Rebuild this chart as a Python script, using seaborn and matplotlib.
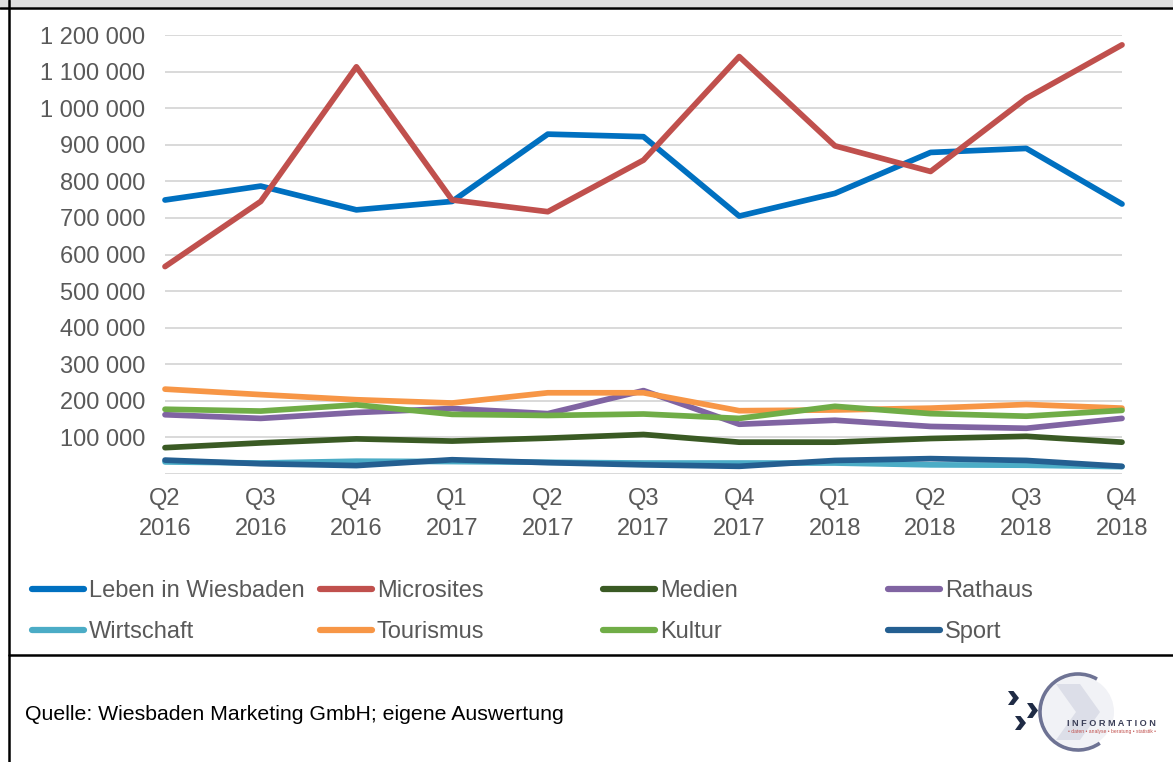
import numpy as np
import pandas as pd
import matplotlib
matplotlib.use("Agg")
import matplotlib.pyplot as plt
import seaborn as sns
from matplotlib.lines import Line2D
from matplotlib.patches import Rectangle, Polygon, Arc, Circle
from matplotlib.ticker import FuncFormatter

# Page views per quarter and topic
quarters = ["Q2\n2016", "Q3\n2016", "Q4\n2016", "Q1\n2017", "Q2\n2017", "Q3\n2017",
            "Q4\n2017", "Q1\n2018", "Q2\n2018", "Q3\n2018", "Q4\n2018"]

leben = [749000, 787000, 722000, 745000, 929000, 922000, 705000, 767000, 879000, 890000, 738000]
microsites = [567000, 745000, 1113000, 749000, 717000, 858000, 1141000, 897000, 827000, 1027000, 1173000]
medien = [72000, 85000, 96000, 90000, 98000, 108000, 87000, 87000, 97000, 103000, 87000]
rathaus = [162000, 152000, 168000, 179000, 165000, 228000, 136000, 147000, 130000, 125000, 152000]
wirtschaft = [33000, 30000, 35000, 34000, 32000, 30000, 30000, 30000, 25000, 24000, 20000]
tourismus = [232000, 217000, 203000, 194000, 222000, 222000, 173000, 175000, 180000, 190000, 180000]
kultur = [177000, 172000, 189000, 163000, 160000, 164000, 152000, 185000, 165000, 158000, 174000]
sport = [38000, 28000, 23000, 39000, 31000, 25000, 21000, 37000, 42000, 37000, 21000]

series_names = ["Leben in Wiesbaden", "Microsites", "Medien", "Rathaus",
                "Wirtschaft", "Tourismus", "Kultur", "Sport"]
series_values = [leben, microsites, medien, rathaus, wirtschaft, tourismus, kultur, sport]
series_colors = ["#0070C0", "#C0504D", "#3A5A24", "#8064A2",
                 "#4BACC6", "#F79646", "#70AD47", "#245F91"]

source_text = "Quelle: Wiesbaden Marketing GmbH; eigene Auswertung"

df = pd.DataFrame([
    {"idx": i, "Aufrufe": v, "Bereich": name}
    for name, vals in zip(series_names, series_values)
    for i, v in enumerate(vals)
])

sns.set_theme(style="white")
plt.rcParams["font.family"] = ["Liberation Sans", "DejaVu Sans"]

W, H = 1173, 762
fig = plt.figure(figsize=(W / 100, H / 100), dpi=100)


def fx(x):
    return x / W


def fy(y):
    return 1 - y / H


# page frame: grey band on top, black rules
fig.patches.append(Rectangle((0, fy(7)), 1, 7 / H, transform=fig.transFigure,
                             facecolor="#E0E0E0", edgecolor="none"))
fig.lines.append(Line2D([0, 1], [fy(7.5), fy(7.5)], transform=fig.transFigure,
                        color="black", lw=1.8))
fig.lines.append(Line2D([fx(8.5), fx(8.5)], [fy(0), 0], transform=fig.transFigure,
                        color="black", lw=1.8))
fig.lines.append(Line2D([fx(8.5), 1], [fy(655), fy(655)], transform=fig.transFigure,
                        color="black", lw=1.8))

ax = fig.add_axes([fx(165), fy(474), (1122 - 165) / W, (474 - 35) / H])
sns.lineplot(data=df, x="idx", y="Aufrufe", hue="Bereich", hue_order=series_names,
             palette=series_colors, linewidth=4.1, legend=False, ax=ax, sort=False)
for line in ax.lines:
    line.set_solid_joinstyle("round")
    line.set_clip_on(False)

ax.set_xlim(0, 10)
ax.set_ylim(0, 1200000)
ax.set_yticks(np.arange(0, 1200001, 100000))
ax.yaxis.set_major_formatter(FuncFormatter(
    lambda v, p: "" if v == 0 else f"{v:,.0f}".replace(",", " ")))
ax.set_xticks(range(len(quarters)))
ax.set_xticklabels(quarters, linespacing=1.5)
ax.set_xlabel("")
ax.set_ylabel("")
ax.grid(axis="y", color="#D9D9D9", lw=1.4)
ax.grid(axis="x", visible=False)
ax.set_axisbelow(True)
for s in ax.spines.values():
    s.set_visible(False)
ax.tick_params(axis="both", length=0, labelsize=17, labelcolor="#595959")
ax.tick_params(axis="y", pad=14)
ax.tick_params(axis="x", pad=10)

# legend: four columns of two entries each, row-wise order
col_x = [32, 320, 603, 888]
for c in range(4):
    idxs = [c, c + 4]
    handles = [Line2D([], [], color=series_colors[i], lw=4.5, solid_capstyle="round")
               for i in idxs]
    labels = [series_names[i] for i in idxs]
    leg = fig.legend(handles, labels, loc="upper left",
                     bbox_to_anchor=(fx(col_x[c]), fy(580)),
                     bbox_transform=fig.transFigure, frameon=False,
                     fontsize=17, handlelength=2.2, handletextpad=0.2,
                     labelspacing=0.8, borderpad=0, borderaxespad=0)
    for t in leg.get_texts():
        t.set_color("#595959")

fig.text(fx(25), fy(715), source_text, fontsize=15.3, color="black",
         ha="left", va="center")

# logo
lax = fig.add_axes([fx(990), fy(762), (1173 - 990) / W, (762 - 665) / H])
lax.set_xlim(990, 1173)
lax.set_ylim(762, 665)
lax.set_aspect("equal")
lax.axis("off")
cx, cy, r = 1078, 712, 38
lax.add_patch(Circle((cx, cy), r - 2, facecolor="#F1F2F6", edgecolor="none"))
lax.add_patch(Polygon([[1056, 684], [1080, 684], [1100, 712], [1080, 740], [1056, 740],
                       [1076, 712]], closed=True, facecolor="#DCDEE8", edgecolor="none"))
lax.add_patch(Arc((cx, cy), 2 * r, 2 * r, theta1=55, theta2=300, color="#6E7394", lw=2.6))
for (x0, y0, s) in [(1008, 691, 14), (1027, 703, 15), (1015, 716, 14)]:
    lax.add_patch(Polygon([[x0, y0], [x0 + 5.5, y0], [x0 + 11, y0 + s / 2],
                           [x0 + 5.5, y0 + s], [x0, y0 + s], [x0 + 5, y0 + s / 2]],
                          closed=True, facecolor="#1F2B45", edgecolor="none"))
lax.text(1111, 723, "I N F O R M A T I O N", fontsize=6.6, fontweight="bold",
         color="#3B3F58", ha="center", va="center")
lax.text(1112, 732, "• daten • analyse • beratung • statistik •", fontsize=3.6,
         color="#C0504D", ha="center", va="center")

fig.savefig("out.png", dpi=100)
